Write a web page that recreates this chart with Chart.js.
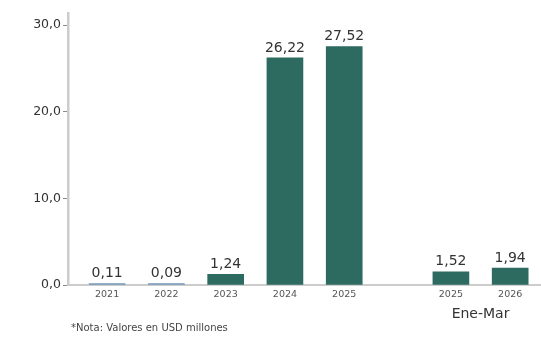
<!DOCTYPE html>
<html>
<head>
<meta charset="utf-8">
<script src="https://cdn.jsdelivr.net/npm/chart.js@4"></script>
<style>
  html, body { margin: 0; padding: 0; background: #fff; }
  #wrap { width: 541px; height: 337px; position: relative; }
</style>
</head>
<body>
<div id="wrap"><canvas id="chart" width="541" height="337"></canvas></div>
<script>
const YEARS = ['2021', '2022', '2023', '2024', '2025', '2025', '2026'];
const VALUES = [0.11, 0.09, 1.24, 26.22, 27.52, 1.52, 1.94];
const PERIODS = ['', '', '', '', '', 'Ene-Mar', 'Ene-Mar'];
const Y_TICKS = [0, 10, 20, 30];
const NOTE = '*Nota: Valores en USD millones';

const GROUP_GAP = 0.8;
const BAR_COLOR = '#2d6a5f';
const SMALL_COLOR = '#7196b8';
const FONT = "'DejaVu Sans', Verdana, sans-serif";

// slot position of each bar: index plus an extra gap whenever the period changes
const positions = [];
let shift = 0;
YEARS.forEach((y, i) => {
    if (i > 0 && PERIODS[i] !== PERIODS[i - 1]) shift += GROUP_GAP;
    positions.push(i + shift);
});

const fmt = (v, d) => v.toFixed(d).replace('.', ',');

const labelsPlugin = {
    id: 'labels',
    afterDatasetsDraw(chart) {
        const ctx = chart.ctx;
        const meta = chart.getDatasetMeta(0);
        ctx.save();
        ctx.fillStyle = '#333';
        ctx.font = '14px ' + FONT;
        ctx.textAlign = 'center';
        ctx.textBaseline = 'bottom';
        meta.data.forEach((bar, i) => {
            ctx.fillText(fmt(VALUES[i], 2), bar.x, Math.min(bar.y, chart.scales.y.getPixelForValue(0) - 2) - 3);
        });

        // group captions under the axis
        const x = chart.scales.x;
        const groups = {};
        PERIODS.forEach((p, i) => {
            if (!p) return;
            (groups[p] = groups[p] || []).push(positions[i]);
        });
        ctx.font = '14px ' + FONT;
        ctx.textBaseline = 'middle';
        Object.keys(groups).forEach(p => {
            const ps = groups[p];
            const mid = (x.getPixelForValue(ps[0]) + x.getPixelForValue(ps[ps.length - 1])) / 2;
            ctx.fillText(p, mid, 314);
        });

        ctx.font = '10px ' + FONT;
        ctx.fillStyle = '#444';
        ctx.textAlign = 'left';
        ctx.fillText(NOTE, 71, 328);
        ctx.restore();
    }
};

new Chart(document.getElementById('chart'), {
    type: 'bar',
    data: {
        datasets: [{
            data: VALUES.map((v, i) => ({ x: positions[i], y: v })),
            backgroundColor: ctx => (ctx.raw && ctx.raw.y < 0.5 ? SMALL_COLOR : BAR_COLOR),
            barThickness: 36,
            minBarLength: 1.5
        }]
    },
    options: {
        responsive: false,
        animation: false,
        layout: { padding: { top: 13, right: 0, bottom: 0, left: 0 } },
        plugins: {
            legend: { display: false },
            tooltip: { enabled: false }
        },
        scales: {
            x: {
                type: 'linear',
                offset: false,
                min: -0.66,
                max: 7.32,
                afterBuildTicks: s => { s.ticks = positions.map(v => ({ value: v })); },
                afterFit: s => { s.height = 52; },
                grid: { display: false, drawTicks: false },
                border: { display: true, color: '#cccccc', width: 2 },
                ticks: {
                    autoSkip: false,
                    maxRotation: 0,
                    padding: 4,
                    color: '#555',
                    font: { family: FONT, size: 9.5 },
                    callback: (v, i) => YEARS[i]
                }
            },
            y: {
                min: 0,
                max: 31.4,
                afterBuildTicks: s => { s.ticks = Y_TICKS.map(v => ({ value: v })); },
                afterFit: s => { s.width = 68; },
                grid: { drawOnChartArea: false, drawTicks: true, tickLength: 5, color: '#888' },
                border: { display: true, color: '#cccccc', width: 2.5 },
                ticks: {
                    padding: 2,
                    color: '#333',
                    font: { family: FONT, size: 12.5 },
                    callback: v => fmt(v, 1)
                }
            }
        }
    },
    plugins: [labelsPlugin]
});
</script>
</body>
</html>
